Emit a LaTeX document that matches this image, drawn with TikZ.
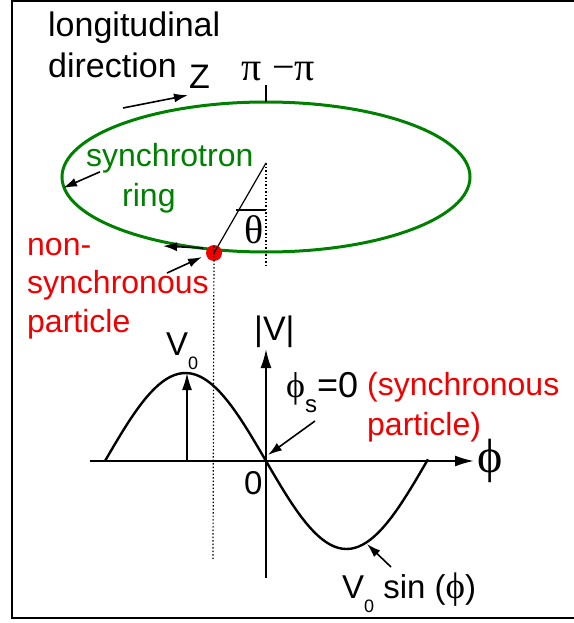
\documentclass[tikz,border=0pt]{standalone}
\usepackage{fontspec}
\setmainfont{Liberation Sans}
\newfontfamily\greek{Liberation Serif}
\usetikzlibrary{arrows.meta}
\definecolor{ringgreen}{RGB}{0,128,0}
\definecolor{partred}{RGB}{240,0,0}
\newcommand\dropsub[2]{\raisebox{-#1}{\fontsize{18}{18}\selectfont #2}}

\begin{document}
\begin{tikzpicture}[
  x=1pt, y=-1pt,
  every node/.style={inner sep=0pt, font=\fontsize{32}{39}\selectfont},
  ringline/.style={draw=ringgreen, line width=3pt},
  arr/.style={-{Latex[length=14pt, width=9pt]}, line width=1.6pt},
  axis/.style={-{Latex[length=19pt, width=11pt]}, line width=2pt},
  guide/.style={dash pattern=on 1.5pt off 2pt, line width=1.2pt},
  grk/.style={font=\fontsize{#1}{#1}\selectfont\greek}
]
\useasboundingbox (0,0) rectangle (573,623);
\draw[line width=2pt] (600,1) -- (12,1) -- (12,618) -- (600,618);

% the ring, seen from the side
\draw[ringline] (266,177) ellipse [x radius=204, y radius=75];
\coordinate (ringtop) at (266,102);
\coordinate (ringleft) at (63,188);
\coordinate (ringback) at (163,246);
\coordinate (centre) at (266,163);
\draw[line width=1.2pt] (ringtop) -- ++(0,-17);
\node[grk=40, anchor=base west] (pipos) at (241,81) {π};
\node[grk=40, anchor=base west] (pineg) at (272,81) {−π};

\node[anchor=base west, align=left, font=\fontsize{34}{41}\selectfont] (longdir) at (48,78) {longitudinal\\direction};
\node[anchor=base west, font=\fontsize{34}{41}\selectfont] (zlab) at (189,89) {Z};
\draw[arr] (123,108) -- ([shift={(-1,6)}]zlab.south west);

\node[anchor=base west, text=ringgreen] (synlab) at (86,166) {synchrotron};
\node[anchor=base west, text=ringgreen] (ringlab) at (122,206) {ring};
\draw[arr] ([shift={(14,-1)}]synlab.south west) -- (ringleft);

% particle and its angle
\coordinate (thetafoot) at (266,268);
\node[circle, fill=partred, minimum size=16pt] (part) at (214,253) {};
\draw[guide] (centre) -- (thetafoot);
\draw[line width=1.2pt] (part.center) -- (centre);
\draw[line width=1.2pt] (236,210) -- (266,210);
\node[grk=40, anchor=base west] (theta) at (244,243) {θ};
\draw[arr] ([shift={(-11,-5)}]part.center) -- (ringback);

\node[anchor=base west, align=left, text=partred, font=\fontsize{32}{38.5}\selectfont] (nonsync) at (27,332) {non-\\synchronous\\particle};
\draw[arr] (167,273) -- ([shift={(-12,4)}]part.center);

% voltage against phase
\coordinate (origin) at (266,461);
\coordinate (haxl) at (90,461);
\coordinate (haxr) at (474,461);
\coordinate (vaxb) at (266,578);
\coordinate (vaxt) at (266,349);
\coordinate (peak) at (187,373);
\coordinate (peakfoot) at (187,461);
\draw[axis] (haxl) -- (haxr);
\draw[axis] (vaxb) -- (vaxt);
\draw[line width=2.4pt, line join=round] plot[domain=105:428, samples=80] ({\x},{461+88*sin(1.118*(\x-266))});
\draw[-{Latex[length=17pt, width=10pt]}, line width=1.6pt] (peakfoot) -- (peak);
\draw[guide] ([yshift=7]part.center) -- (213,560);

\node[anchor=base west, font=\fontsize{34}{41}\selectfont] (vabs) at (254,340) {|V|};
\node[anchor=base west, font=\fontsize{33}{41}\selectfont] (vnull) at (166,355) {V\dropsub{14pt}{0}};
\node[anchor=base west, font=\fontsize{33}{41}\selectfont] (zero) at (244,494) {0};
\node[grk=48, anchor=base west] (phiax) at (477,472) {ϕ};
\node[anchor=base west, font=\fontsize{36}{41}\selectfont] (phis) at (286,397) {{\greek\fontsize{36}{36}\selectfont ϕ}\dropsub{15pt}{\fontsize{24}{24}\selectfont s}=0};
\draw[arr] (315,421) -- ([shift={(2,-6)}]origin);
\node[anchor=base west, align=left, text=partred, font=\fontsize{32}{40}\selectfont] (synclab) at (367,435) {(synchronous\\particle)};
\node[anchor=base west, font=\fontsize{33}{41}\selectfont] (vsin) at (342,598) {V\dropsub{14pt}{0} sin ({\greek\fontsize{37}{37}\selectfont ϕ})};
\draw[arr] (391,567) -- (367,544);
\end{tikzpicture}
\end{document}
